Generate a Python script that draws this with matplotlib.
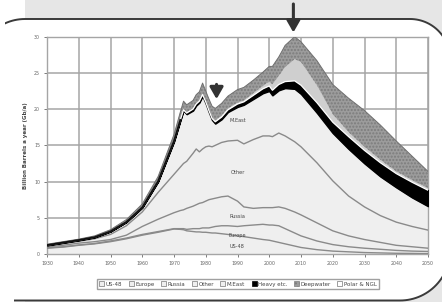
import numpy as np
import matplotlib
matplotlib.use("Agg")
import matplotlib.pyplot as plt
from matplotlib.patches import FancyBboxPatch, Patch, Polygon, Rectangle

# values: top of each stacked band (Gb/a)
years = [1930, 1935, 1940, 1945, 1950, 1955, 1960, 1965, 1970, 1972, 1973, 1974,
         1976, 1977, 1978, 1979, 1980, 1981, 1982, 1983, 1985, 1987, 1990, 1992,
         1995, 1998, 2000, 2001, 2003, 2005, 2008, 2010, 2015, 2020, 2025, 2030,
         2035, 2040, 2045, 2050]

us48_top = [0.8, 0.95, 1.2, 1.4, 1.7, 2.1, 2.6, 3.0, 3.45, 3.4, 3.35, 3.2,
            3.1, 3.05, 3.05, 3.0, 3.0, 2.95, 2.9, 2.9, 2.8, 2.7, 2.5, 2.4,
            2.2, 2.0, 1.9, 1.8, 1.6, 1.4, 1.1, 0.9, 0.6, 0.4, 0.3, 0.2,
            0.15, 0.1, 0.08, 0.05]
europe_top = [0.85, 1.0, 1.25, 1.45, 1.8, 2.2, 2.7, 3.1, 3.5, 3.5, 3.5, 3.4,
              3.5, 3.5, 3.5, 3.6, 3.6, 3.6, 3.7, 3.8, 3.9, 3.9, 3.8, 3.9,
              4.0, 4.1, 4.0, 4.0, 3.9, 3.5, 2.9, 2.5, 1.8, 1.3, 1.0, 0.8,
              0.65, 0.5, 0.4, 0.35]
russia_top = [1.0, 1.2, 1.5, 1.7, 2.0, 2.6, 3.8, 4.8, 5.7, 6.0, 6.1, 6.3,
              6.6, 6.8, 7.0, 7.1, 7.3, 7.5, 7.6, 7.7, 7.9, 8.0, 7.3, 6.5,
              6.3, 6.4, 6.4, 6.4, 6.5, 6.3, 5.8, 5.4, 4.3, 3.2, 2.5, 2.0,
              1.6, 1.2, 1.0, 0.8]
other_top = [1.1, 1.4, 1.75, 2.1, 2.7, 3.9, 5.8, 8.5, 11.0, 12.0, 12.5, 12.8,
             13.9, 14.5, 14.1, 14.5, 14.8, 14.9, 14.8, 15.0, 15.4, 15.6, 15.7, 15.2,
             15.8, 16.3, 16.3, 16.2, 16.7, 16.3, 15.5, 14.8, 12.6, 10.1, 8.0, 6.5,
             5.3, 4.4, 3.8, 3.3]
meast_top = [1.2, 1.55, 1.9, 2.3, 3.1, 4.4, 6.4, 10.0, 15.5, 18.4, 19.8, 19.3,
             19.8, 20.5, 20.9, 21.8, 20.8, 19.6, 18.5, 18.0, 18.6, 19.6, 20.3, 20.6,
             21.4, 22.2, 22.5, 21.9, 22.6, 22.9, 22.8, 22.1, 19.5, 16.7, 14.5, 12.5,
             10.7, 9.2, 7.8, 6.6]
heavy_top = [1.22, 1.57, 1.92, 2.32, 3.12, 4.42, 6.43, 10.05, 15.6, 18.5, 19.9, 19.45,
             20.0, 20.7, 21.1, 22.0, 21.0, 19.8, 18.7, 18.25, 18.9, 19.9, 20.7, 21.0,
             21.9, 22.8, 23.2, 22.6, 23.4, 23.8, 23.9, 23.3, 20.9, 18.2, 16.2, 14.3,
             12.6, 11.1, 9.9, 8.8]
deep_top = [1.22, 1.57, 1.92, 2.32, 3.12, 4.42, 6.43, 10.05, 15.65, 18.6, 20.0, 19.55,
            20.1, 20.8, 21.2, 22.2, 21.2, 20.0, 18.9, 18.45, 19.1, 20.1, 20.9, 21.2,
            22.2, 23.2, 23.8, 23.4, 24.6, 25.8, 26.9, 26.5, 23.3, 19.3, 16.8, 14.8,
            13.0, 11.4, 10.2, 9.1]
total_top = [1.35, 1.7, 2.05, 2.5, 3.35, 4.75, 6.9, 10.7, 16.5, 19.6, 21.1, 20.6,
             21.2, 22.0, 22.4, 23.6, 22.5, 21.4, 20.4, 20.1, 20.8, 21.8, 22.7, 23.0,
             24.0, 25.1, 25.9, 25.9, 27.2, 28.8, 30.0, 29.3, 26.7, 23.4, 21.5, 19.8,
             17.8, 15.6, 13.5, 11.4]

legend_names = ["US-48", "Europe", "Russia", "Other", "M.East", "Heavy etc.", "Deepwater", "Polar & NGL"]
inner_labels = [("M.East", 1990, 18.4), ("Other", 1990, 11.3), ("Russia", 1990, 5.2),
                ("Europe", 1990, 2.6), ("US-48", 1990, 1.0)]

W, H = 442, 302
fig = plt.figure(figsize=(W / 100, H / 100), dpi=100)
fig.patch.set_facecolor("white")

# background tab + rounded frame, in pixel coordinates (y down)
bg = fig.add_axes([0, 0, 1, 1], zorder=-10)
bg.set_xlim(0, W)
bg.set_ylim(H, 0)
bg.axis("off")
bg.add_patch(FancyBboxPatch((25, -40), 500, 420, boxstyle="round,pad=0,rounding_size=14",
                            fc="#e6e6e6", ec="none"))


def arc(cx, cy, r, a0, a1):
    a = np.linspace(a0, a1, 30)
    return list(zip(cx + r * np.cos(a), cy + r * np.sin(a)))


pts = arc(25, 67, 48, np.pi, 1.5 * np.pi)
pts += arc(410, 59, 40, 1.5 * np.pi, 2 * np.pi)
pts += arc(400, 250.5, 50, 0, 0.5 * np.pi)
pts += [(-23, 300.5)]
bg.add_patch(Polygon(pts, closed=True, fc="white", ec="#3a3a3a", lw=1.4))
bg.add_patch(Rectangle((-5, -5), 9.5, 320, fc="white", ec="none"))
bg.add_patch(Rectangle((-5, 296), 19, 10, fc="white", ec="none"))

ax = fig.add_axes([47 / W, 48 / H, 381 / W, 217.3 / H])
yrs = np.array(years)
zero = np.zeros(len(years))
light = "#efefef"
edge = "#8a8a8a"

levels = [zero, us48_top, europe_top, russia_top, other_top, meast_top]
for lo, hi in zip(levels[:-1], levels[1:]):
    ax.fill_between(yrs, lo, hi, facecolor=light, edgecolor="none", zorder=2)
    ax.plot(yrs, hi, color=edge, lw=1.0, zorder=3)

ax.fill_between(yrs, meast_top, heavy_top, facecolor="black", edgecolor="black", lw=1.0, zorder=4)
ax.fill_between(yrs, heavy_top, deep_top, facecolor="#cfcfcf", edgecolor="none", zorder=4)
ax.plot(yrs, heavy_top, color="white", lw=0.9, zorder=5)
ax.fill_between(yrs, deep_top, total_top, facecolor="#9c9c9c", edgecolor="#7c7c7c",
                hatch=".....", lw=0, zorder=4)
ax.plot(yrs, total_top, color="#707070", lw=0.7, zorder=5)
ax.plot(yrs[yrs <= 1972], np.array(heavy_top)[yrs <= 1972], color="#111111", lw=1.4, zorder=6)

for txt, x, y in inner_labels:
    ax.text(x, y, txt, fontsize=3.6, color="#444444", ha="center", va="center", zorder=7)

ax.annotate("", xy=(1983.4, 21.0), xytext=(1983.4, 23.8),
            arrowprops=dict(arrowstyle="-|>,head_width=0.4,head_length=0.7", lw=2.2, color="#333333"),
            zorder=8)
ax.annotate("", xy=(2007.6, 30.2), xytext=(2007.6, 34.9),
            arrowprops=dict(arrowstyle="-|>,head_width=0.4,head_length=0.7", lw=2.2, color="#333333"),
            annotation_clip=False, zorder=8)

ax.set_xlim(1930, 2050)
ax.set_ylim(0, 30)
ax.set_xticks(range(1930, 2051, 10))
ax.set_yticks(range(0, 31, 5))
ax.grid(True, color="#a5a5a5", lw=1.1)
ax.set_axisbelow(True)
for s in ax.spines.values():
    s.set_color("#a5a5a5")
    s.set_linewidth(1.0)
ax.tick_params(labelsize=3.4, colors="#666666", length=2, width=0.6, pad=3)
ax.set_ylabel("Billion Barrels a year (Gb/a)", fontsize=4.0, color="#444444",
              fontweight="bold", labelpad=4)

handles = [Patch(fc=light, ec="#777777", lw=0.5) for _ in range(5)]
handles.append(Patch(fc="black", ec="black", lw=0.5))
handles.append(Patch(fc="#9c9c9c", ec="#7c7c7c", hatch="....", lw=0.5))
handles.append(Patch(fc="white", ec="#777777", lw=0.5))
fig.legend(handles, legend_names, loc="center", bbox_to_anchor=(238 / W, 1 - 284 / H),
           ncol=8, fontsize=4.0, frameon=True, fancybox=False, edgecolor="#888888",
           handlelength=0.9, handleheight=0.9, handletextpad=0.3, columnspacing=1.15,
           borderpad=0.35, labelcolor="#444444")

fig.savefig("out.png", dpi=100)
